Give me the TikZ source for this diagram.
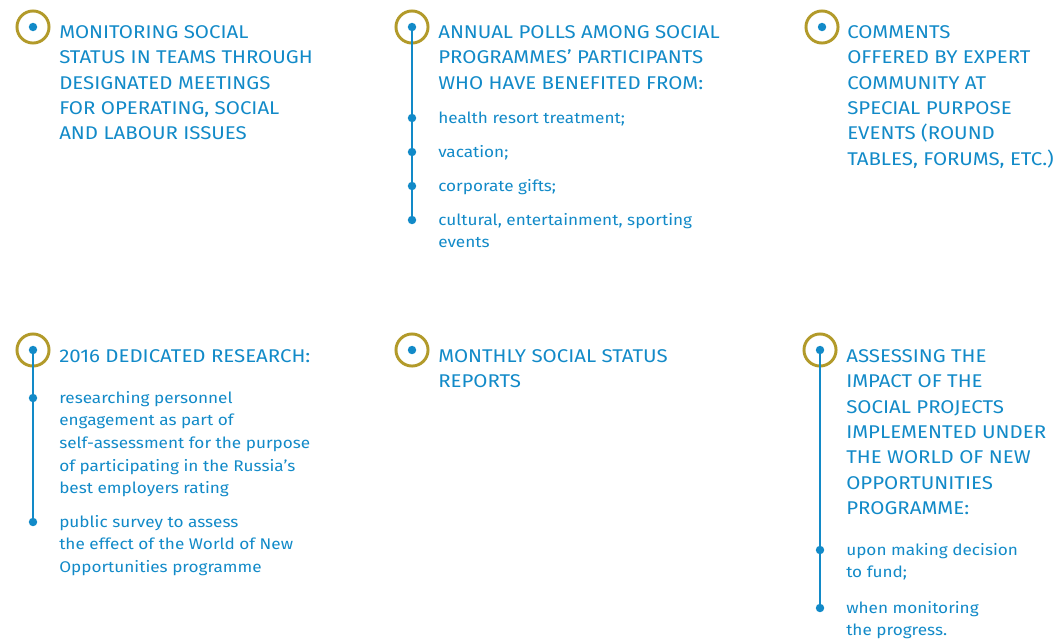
\documentclass[tikz,border=0pt]{standalone}
\usepackage{fontspec}
\setmainfont{Fira Sans}[FakeStretch=1.11]
\usetikzlibrary{positioning}
\definecolor{socblue}{RGB}{18,138,200}
\definecolor{socgold}{RGB}{178,154,42}

\tikzset{
  ring/.style={circle, draw=socgold, line width=2.1pt, minimum size=22.8pt, inner sep=0pt},
  dot/.style={circle, fill=socblue, minimum size=6pt, inner sep=0pt},
  stem/.style={socblue, line width=1.7pt},
  headtext/.style={anchor=north west, inner sep=0pt, align=left, text=socblue,
    font=\fontsize{13.1}{18.1}\selectfont},
  itemtext/.style={anchor=north west, inner sep=0pt, align=left, text=socblue,
    font=\fontsize{11}{16.1}\selectfont}
}

\begin{document}
\begin{tikzpicture}[x=0.025cm, y=-0.025cm]
  \useasboundingbox (0,0) rectangle (1056,640);

  % rings with centre dots
  \foreach \n/\x/\y in {1/33/27, 2/412/27, 3/822/27, 4/33/350, 5/412/350, 6/820/350} {
    \node[ring] (r\n) at (\x,\y) {};
    \node[dot] (d\n) at (\x,\y) {};
  }

  % bullets
  \foreach \n/\y in {1/118, 2/152, 3/186, 4/220}
    \node[dot] (b2\n) at (412,\y) {};
  \foreach \n/\y in {1/398, 2/522}
    \node[dot] (b4\n) at (33,\y) {};
  \foreach \n/\y in {1/550, 2/608}
    \node[dot] (b6\n) at (820,\y) {};

  \draw[stem] (d2.center) -- (b24.center);
  \draw[stem] (d4.center) -- (b42.center);
  \draw[stem] (d6.center) -- (b62.center);

  % headings
  \node[headtext] (h1) at (59,20) {\strut MONITORING SOCIAL\\STATUS IN TEAMS THROUGH\\DESIGNATED MEETINGS\\FOR OPERATING, SOCIAL\\AND LABOUR ISSUES};
  \node[headtext] (h2) at (438,20) {\strut ANNUAL POLLS AMONG SOCIAL\\PROGRAMMES’ PARTICIPANTS\\WHO HAVE BENEFITED FROM:};
  \node[headtext] (h3) at (847,20) {\strut COMMENTS\\OFFERED BY EXPERT\\COMMUNITY AT\\SPECIAL PURPOSE\\EVENTS (ROUND\\TABLES, FORUMS, ETC.)};
  \node[headtext] (h4) at (59,344) {\strut 2016 DEDICATED RESEARCH:};
  \node[headtext] (h5) at (438,344) {\strut MONTHLY SOCIAL STATUS\\REPORTS};
  \node[headtext] (h6) at (846,344) {\strut ASSESSING THE\\IMPACT OF THE\\SOCIAL PROJECTS\\IMPLEMENTED UNDER\\THE WORLD OF NEW\\OPPORTUNITIES\\PROGRAMME:};

  % items
  \node[itemtext] (t21) at (438,107) {\strut health resort treatment;};
  \node[itemtext] (t22) at (438,141) {\strut vacation;};
  \node[itemtext] (t23) at (438,175) {\strut corporate gifts;};
  \node[itemtext] (t24) at (438,209) {\strut cultural, entertainment, sporting\\events};
  \node[itemtext] (t41) at (59,387) {\strut researching personnel\\engagement as part of\\self-assessment for the purpose\\of participating in the Russia’s\\best employers rating};
  \node[itemtext] (t42) at (59,511) {\strut public survey to assess\\the effect of the World of New\\Opportunities programme};
  \node[itemtext] (t61) at (846,539) {\strut upon making decision\\to fund;};
  \node[itemtext] (t62) at (846,597) {\strut when monitoring\\the progress.};
\end{tikzpicture}
\end{document}
